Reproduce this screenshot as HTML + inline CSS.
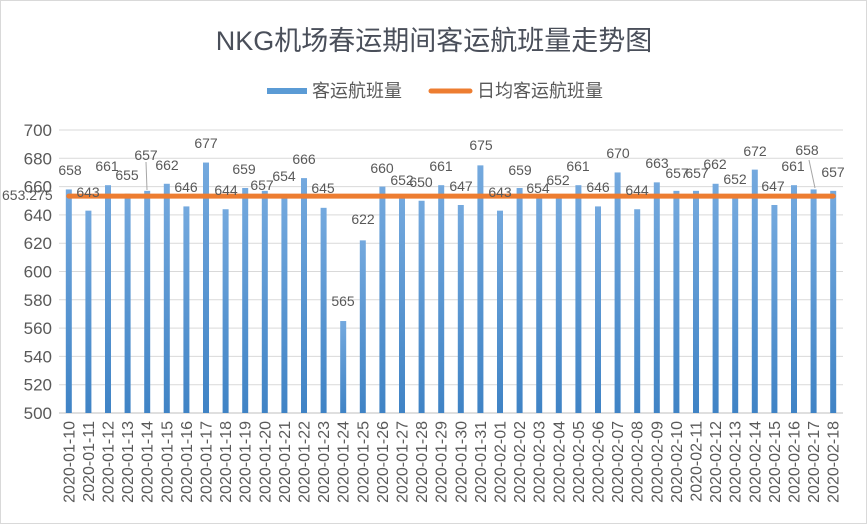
<!DOCTYPE html>
<html><head><meta charset="utf-8"><style>
html,body{margin:0;padding:0;background:#fff;}
svg{display:block;font-family:"Liberation Sans","Noto Sans CJK SC",sans-serif;}
</style></head><body>
<svg id="c" width="867" height="524" viewBox="0 0 867 524" xmlns="http://www.w3.org/2000/svg">
<defs><linearGradient id="g" x1="0" y1="0" x2="0" y2="1"><stop offset="0" stop-color="#74a9de"/><stop offset="1" stop-color="#3f83c5"/></linearGradient></defs>
<rect x="0.5" y="0.5" width="866" height="523" fill="#fff" stroke="#d9d9d9"/>
<text x="434" y="50" font-size="27" fill="#4a4f5a" text-anchor="middle">NKG机场春运期间客运航班量走势图</text>
<rect x="267" y="88" width="40" height="6" fill="#5b9bd5"/>
<text x="312" y="97" font-size="18" fill="#595959">客运航班量</text>
<line x1="431" y1="91" x2="470" y2="91" stroke="#ed7d31" stroke-width="5" stroke-linecap="round"/>
<text x="477" y="97" font-size="18" fill="#595959">日均客运航班量</text>
<g id="grid"></g><g id="bars"></g><g id="lab"></g>
</svg>
<script>
var v=[658,643,661,655,657,662,646,677,644,659,657,654,666,645,565,622,660,652,650,661,647,675,643,659,654,652,661,646,670,644,663,657,657,662,652,672,647,661,658,657];
var d=[];for(var i=10;i<=31;i++)d.push("2020-01-"+i);for(var i=1;i<=18;i++)d.push("2020-02-"+(i<10?"0"+i:i));
var lp=[[70,170],[88,192],[107,166],[127,175],[146,155],[167,165],[186,187],[206,143],[226,190],[244,169],[262,185],[284,176],[304,159],[323,188],[343,301],[363,219],[382,168],[402,180],[421,182],[441,166],[461,186],[481,145],[500,192],[520,170],[538,188],[558,180],[578,166],[598,187],[618,153],[637,190],[657,163],[677,173],[697,173],[715,164],[735,179],[755,151],[773,186],[793,166],[807,150],[833,172]];
var L=59,R=843,T=130,B=413;function Y(x){return B-(x-500)*(B-T)/200;}
var s="";
for(var k=500;k<=700;k+=20){var y=Y(k);s+='<line x1="'+L+'" x2="'+R+'" y1="'+y+'" y2="'+y+'" stroke="'+(k==500?'#bfbfbf':'#d9d9d9')+'" stroke-width="1"/>';s+='<text x="52" y="'+(y+6)+'" font-size="17" fill="#595959" text-anchor="end">'+k+'</text>';}
var w=(R-L)/40,b="",l="";
for(var i=0;i<40;i++){var cx=L+w*(i+0.5);b+='<rect x="'+(cx-3)+'" y="'+Y(v[i])+'" width="6" height="'+(B-Y(v[i]))+'" fill="url(#g)"/>';
l+='<text x="'+lp[i][0]+'" y="'+(lp[i][1]+5)+'" font-size="14" fill="#595959" text-anchor="middle">'+v[i]+'</text>';
l+='<text transform="translate('+(cx+5.5)+',421) rotate(-90)" font-size="16" fill="#595959" text-anchor="end">'+d[i]+'</text>';}
var my=Y(653.275);
b+='<line x1="'+(L+w/2)+'" x2="'+(R-w/2)+'" y1="'+my+'" y2="'+my+'" stroke="#ed7d31" stroke-width="5" stroke-linecap="round"/>';
l+='<text x="2" y="'+(my+4)+'" font-size="14" fill="#595959">653.275</text>';
l+='<line x1="146" y1="162" x2="147" y2="190" stroke="#a6a6a6"/><line x1="809" y1="160" x2="815" y2="188" stroke="#a6a6a6"/>';
document.getElementById("grid").innerHTML=s;document.getElementById("bars").innerHTML=b;document.getElementById("lab").innerHTML=l;
</script>
</body></html>
